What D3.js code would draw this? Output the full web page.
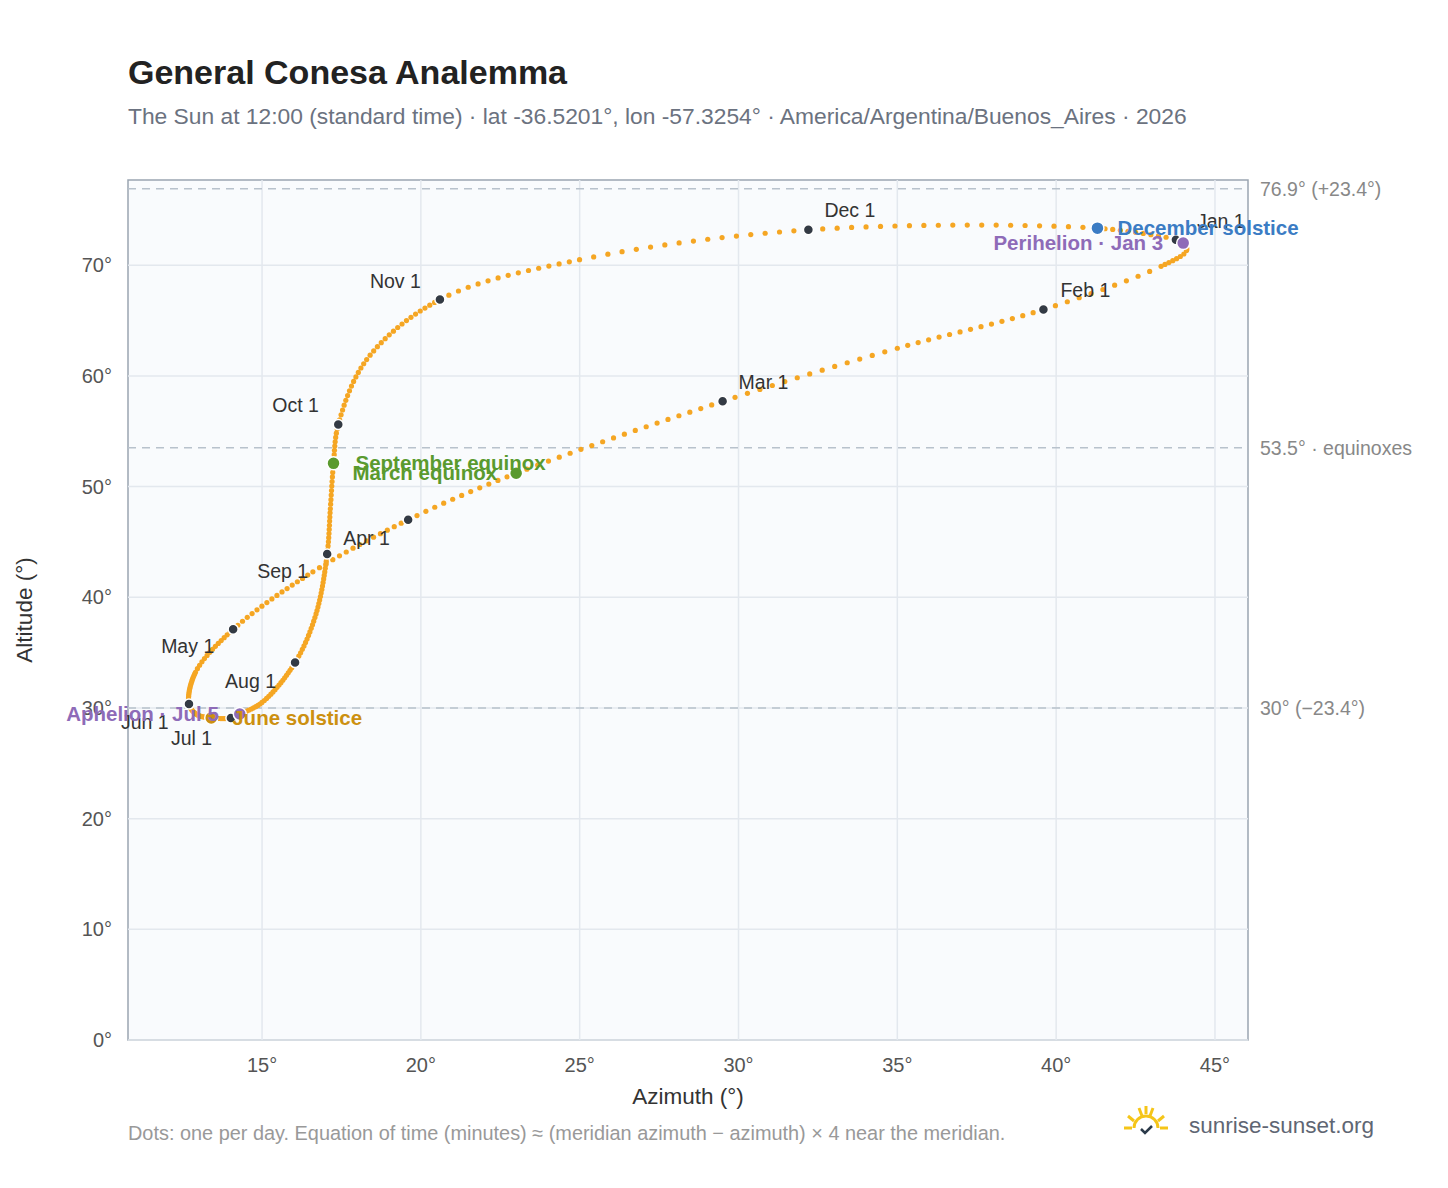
<!DOCTYPE html>
<html><head><meta charset="utf-8">
<script src="https://cdn.jsdelivr.net/npm/d3@7"></script>
<style>body{margin:0;background:#fff;font-family:"Liberation Sans",Arial,sans-serif}</style>
</head><body><div id="chart"></div>
<script>
// key dates along the analemma
const keyDates = ["2026-01-01","2026-01-08","2026-01-15","2026-01-22","2026-02-01","2026-02-15","2026-03-01","2026-03-20","2026-04-01","2026-04-15","2026-05-01","2026-05-15","2026-06-01","2026-06-10","2026-06-21","2026-07-01","2026-07-05","2026-07-15","2026-08-01","2026-08-15","2026-09-01","2026-09-12","2026-09-22","2026-10-01","2026-10-15","2026-11-01","2026-11-15","2026-12-01","2026-12-21","2026-12-31"]
const keyAz  = [43.77,44.05,44.1,43.3,39.6,35.0,29.5,23.0,19.6,16.6,14.09,12.9,12.7,12.95,13.4,14.02,14.3,15.0,16.04,16.7,17.05,17.15,17.25,17.4,18.3,20.6,25.0,32.2,41.3,43.7]
const keyAlt = [72.3,71.9,71.3,69.9,66.0,62.5,57.7,51.2,47.0,42.3,37.1,33.2,30.35,29.4,29.1,29.1,29.45,30.5,34.1,38.5,43.9,48.0,52.1,55.6,61.5,66.9,70.5,73.2,73.35,72.4]

const monthLabels = ["Jan 1","Feb 1","Mar 1","Apr 1","May 1","Jun 1","Jul 1","Aug 1","Sep 1","Oct 1","Nov 1","Dec 1"]
const monthAz  = [43.77,39.6,29.5,19.6,14.09,12.7,14.02,16.04,17.05,17.4,20.6,32.2]
const monthAlt = [72.3,66.0,57.7,47.0,37.1,30.35,29.1,34.1,43.9,55.6,66.9,73.2]
const monthDx  = [21,17,16,-65,-72,-68,-60,-70,-70,-66,-70,16]
const monthDy  = [-12,-12,-12,25,24,25,27,25,24,-13,-12,-13]

const events   = ["December solstice","Perihelion · Jan 3","September equinox","March equinox","June solstice","Aphelion · Jul 5"]
const eventAz  = [41.3,44.0,17.25,23.0,13.4,14.3]
const eventAlt = [73.35,72.0,52.1,51.2,29.1,29.45]
const eventCol = ["#3b7cc4","#8e6bb8","#5a9a2e","#5a9a2e","#cc9010","#8e6bb8"]
const eventDx  = [20,-20,22,-19,21,-21]
const eventDy  = [7,7,7,7,7,7]
const eventAnchor = ["start","end","start","end","start","end"]

const refAlt   = [76.9,53.5,30]
const refLabel = ["76.9° (+23.4°)","53.5° · equinoxes","30° (−23.4°)"]

const xTicks = [15,20,25,30,35,40,45]
const yTicks = [0,10,20,30,40,50,60,70]

const W = 1448, H = 1188
const m = {l:128, r:200, t:180, b:148}
const svg = d3.select("#chart").append("svg").attr("width",W).attr("height",H)

const x = d3.scaleLinear().domain([10.78,46.04]).range([m.l, W-m.r])
const y = d3.scaleLinear().domain([0,77.7]).range([H-m.b, m.t])

svg.append("text").attr("x",128).attr("y",84).attr("font-size",34).attr("font-weight","bold").attr("fill","#222").text("General Conesa Analemma")
svg.append("text").attr("x",128).attr("y",124).attr("font-size",22.8).attr("fill","#6b7280")
  .text("The Sun at 12:00 (standard time) · lat -36.5201°, lon -57.3254° · America/Argentina/Buenos_Aires · 2026")

svg.append("rect").attr("x",m.l).attr("y",m.t).attr("width",W-m.r-m.l).attr("height",H-m.b-m.t)
  .attr("fill","#f9fbfd").attr("stroke","#9aa5b1").attr("stroke-width",1.5)

svg.selectAll(".gx").data(xTicks).enter().append("line")
  .attr("x1",d=>x(d)).attr("x2",d=>x(d)).attr("y1",m.t).attr("y2",H-m.b).attr("stroke","#e3e8ee").attr("stroke-width",1.5)
svg.selectAll(".gy").data(yTicks).enter().append("line")
  .attr("y1",d=>y(d)).attr("y2",d=>y(d)).attr("x1",m.l).attr("x2",W-m.r).attr("stroke","#e3e8ee").attr("stroke-width",1.5)

svg.selectAll(".xt").data(xTicks).enter().append("text")
  .attr("x",d=>x(d)).attr("y",H-m.b+32).attr("text-anchor","middle").attr("font-size",20).attr("fill","#555").text(d=>d+"°")
svg.selectAll(".yt").data(yTicks).enter().append("text")
  .attr("x",m.l-16).attr("y",d=>y(d)+7).attr("text-anchor","end").attr("font-size",20).attr("fill","#555").text(d=>d+"°")
svg.append("text").attr("x",(m.l+W-m.r)/2).attr("y",1104).attr("text-anchor","middle").attr("font-size",22.5).attr("fill","#333").text("Azimuth (°)")
svg.append("text").attr("transform",`translate(32,${(m.t+H-m.b)/2}) rotate(-90)`).attr("text-anchor","middle").attr("font-size",22.5).attr("fill","#333").text("Altitude (°)")

refAlt.forEach((a,i)=>{
  svg.append("line").attr("x1",m.l).attr("x2",W-m.r).attr("y1",y(a)).attr("y2",y(a))
    .attr("stroke","#b8c2cc").attr("stroke-width",1.5).attr("stroke-dasharray","8,6")
  svg.append("text").attr("x",W-m.r+12).attr("y",y(a)+7).attr("font-size",19.5).attr("fill","#888").text(refLabel[i])
})

// daily dots placed along a smooth curve through the key points
const t0 = new Date(2026,0,1)
const keyDay = keyDates.map(s => d3.timeDay.count(t0, new Date(s+"T12:00")))
const pts = keyAz.map((a,i)=>[x(a), y(keyAlt[i])])
const line = d3.line().curve(d3.curveCatmullRom.alpha(0.5))
const path = svg.append("path").attr("d", line(pts)).attr("fill","none").attr("stroke","none")
const node = path.node()
const tmp = svg.append("path").attr("fill","none")
const keyLen = pts.map((p,i)=>{ if(i===0) return 0; tmp.attr("d", line(pts.slice(0,i+1))); return tmp.node().getTotalLength() })
tmp.remove()
keyLen[keyLen.length-1] = node.getTotalLength()
const lenOfDay = d3.scaleLinear().domain(keyDay).range(keyLen)
const days = d3.range(0,365)
svg.append("g").selectAll("circle").data(days).enter().append("circle")
  .attr("r",2.6).attr("fill","#f5a623")
  .each(function(d){ const p = node.getPointAtLength(lenOfDay(d)); d3.select(this).attr("cx",p.x).attr("cy",p.y) })

svg.selectAll(".md").data(monthLabels).enter().append("circle")
  .attr("cx",(d,i)=>x(monthAz[i])).attr("cy",(d,i)=>y(monthAlt[i])).attr("r",5).attr("fill","#333a44").attr("stroke","#fff").attr("stroke-width",1.5)
svg.selectAll(".ml").data(monthLabels).enter().append("text")
  .attr("x",(d,i)=>x(monthAz[i])+monthDx[i]).attr("y",(d,i)=>y(monthAlt[i])+monthDy[i])
  .attr("font-size",19.5).attr("fill","#333").text(d=>d)

svg.selectAll(".ed").data(events).enter().append("circle")
  .attr("cx",(d,i)=>x(eventAz[i])).attr("cy",(d,i)=>y(eventAlt[i])).attr("r",6.5).attr("fill",(d,i)=>eventCol[i]).attr("stroke","#fff").attr("stroke-width",1.5)
svg.selectAll(".el").data(events).enter().append("text")
  .attr("x",(d,i)=>x(eventAz[i])+eventDx[i]).attr("y",(d,i)=>y(eventAlt[i])+eventDy[i])
  .attr("text-anchor",(d,i)=>eventAnchor[i]).attr("font-size",20.5).attr("font-weight","bold").attr("fill",(d,i)=>eventCol[i]).text(d=>d)

svg.append("text").attr("x",128).attr("y",1140).attr("font-size",19.9).attr("fill","#999")
  .text("Dots: one per day. Equation of time (minutes) ≈ (meridian azimuth − azimuth) × 4 near the meridian.")

// logo
const lg = svg.append("g").attr("transform","translate(1146,1128)")
;[[-22,0,-14,0],[14,0,22,0],[-18,-12,-12,-7],[18,-12,12,-7],[-7,-20,-4,-12],[7,-20,4,-12],[0,-22,0,-14]].forEach(s=>
  lg.append("line").attr("x1",s[0]).attr("y1",s[1]).attr("x2",s[2]).attr("y2",s[3]).attr("stroke","#f5c518").attr("stroke-width",3))
lg.append("path").attr("d","M-12,0 A12,12 0 0 1 12,0").attr("fill","none").attr("stroke","#f5c518").attr("stroke-width",3)
lg.append("path").attr("d","M-5,1 L-1,5 L6,-2").attr("fill","none").attr("stroke","#2b3a4a").attr("stroke-width",2.5)
svg.append("text").attr("x",1189).attr("y",1133).attr("font-size",22.5).attr("fill","#5f6673").text("sunrise-sunset.org")
</script></body></html>
